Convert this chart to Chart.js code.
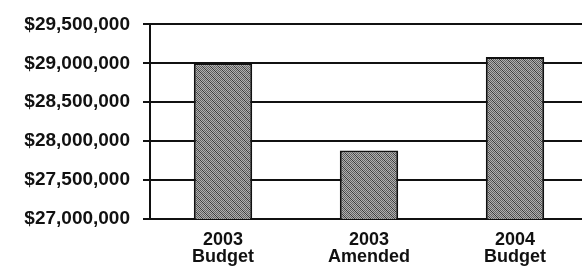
<!DOCTYPE html>
<html>
<head>
<meta charset="utf-8">
<script src="https://cdn.jsdelivr.net/npm/chart.js"></script>
<style>
  html, body { margin: 0; padding: 0; background: #fff; overflow: hidden; }
  #wrap { width: 588px; height: 271px; }
</style>
</head>
<body>
<div id="wrap"><canvas id="budget-chart"></canvas></div>
<script>
// Chart data
const categories = [['2003', 'Budget'], ['2003', 'Amended'], ['2004', 'Budget']];
const amounts = [29000000, 27880000, 29080000];
const axisMin = 27000000;
const axisMax = 29500000;
const axisStep = 500000;

// Build a gray stipple + diagonal hatch fill like the scanned bars
function makePattern() {
  const c = document.createElement('canvas');
  c.width = 8;
  c.height = 8;
  const g = c.getContext('2d');
  g.fillStyle = '#b0b0b0';
  g.fillRect(0, 0, 8, 8);
  g.fillStyle = '#606060';
  for (let y = 0; y < 8; y++) {
    for (let x = 0; x < 8; x++) {
      if ((x + y) % 2 === 0) g.fillRect(x, y, 1, 1);
    }
  }
  // diagonal "\" hatch
  g.fillStyle = '#3a3a3a';
  for (let i = 0; i < 8; i++) {
    g.fillRect(i, i, 1, 1);
  }
  return g.createPattern(c, 'repeat');
}

const fmt = v => '$' + Number(v).toLocaleString('en-US');

const ctx = document.getElementById('budget-chart');
new Chart(ctx, {
  type: 'bar',
  data: {
    labels: categories,
    datasets: [{
      data: amounts,
      backgroundColor: makePattern(),
      borderColor: '#111',
      borderWidth: 2,
      borderSkipped: false,
      categoryPercentage: 1.0,
      barPercentage: 0.4
    }]
  },
  options: {
    responsive: true,
    maintainAspectRatio: false,
    animation: false,
    layout: { padding: { top: 21, right: 0, left: 0, bottom: 0 } },
    plugins: {
      legend: { display: false },
      tooltip: { enabled: false }
    },
    scales: {
      x: {
        grid: { display: false },
        border: { display: true, color: '#111', width: 2 },
        ticks: {
          color: '#111',
          padding: 5,
          maxRotation: 0,
          font: { family: 'Liberation Sans, Arial, sans-serif', size: 18, weight: 'bold', lineHeight: 0.92 }
        },
        afterFit: function(scale) { scale.height = 52; }
      },
      y: {
        min: axisMin,
        max: axisMax,
        grid: {
          color: '#111',
          lineWidth: 2,
          tickLength: 7,
          drawTicks: true
        },
        border: { display: true, color: '#111', width: 2 },
        ticks: {
          stepSize: axisStep,
          color: '#111',
          padding: 13,
          callback: fmt,
          font: { family: 'Liberation Sans, Arial, sans-serif', size: 19, weight: 'bold' }
        },
        afterFit: function(scale) { scale.width = 150; }
      }
    }
  }
});
</script>
</body>
</html>
